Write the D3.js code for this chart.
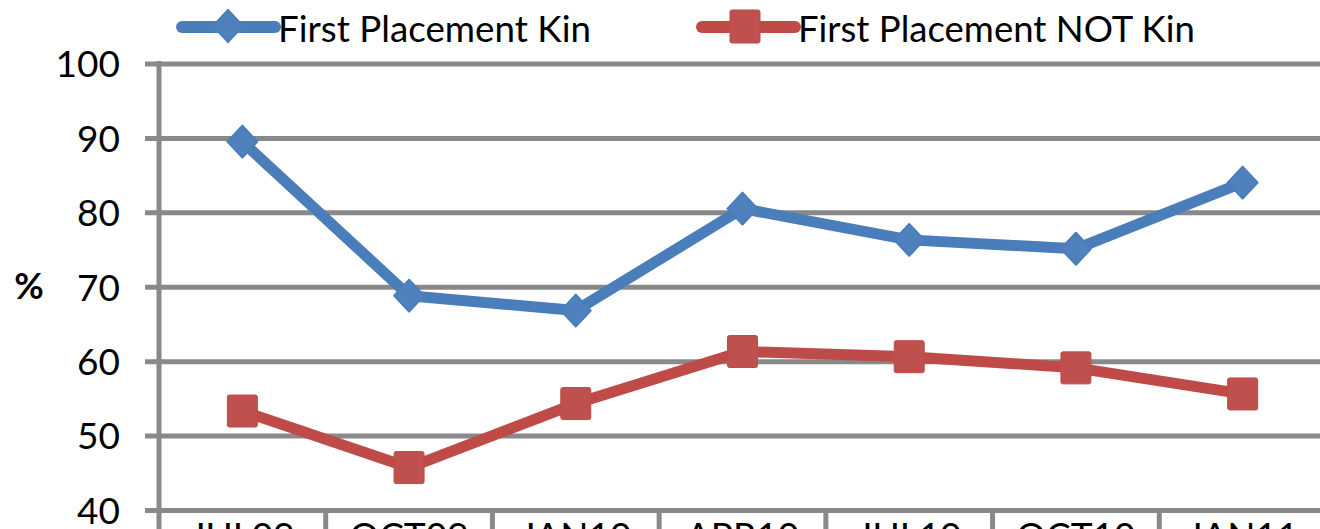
<!DOCTYPE html>
<html>
<head>
<meta charset="utf-8">
<script src="https://cdn.jsdelivr.net/npm/d3@7"></script>
<style>
  html, body { margin: 0; padding: 0; background: #fff; overflow: hidden; }
  svg { display: block; font-family: Lato, "Open Sans", sans-serif; }
</style>
</head>
<body>
<svg id="chart" width="1320" height="529"></svg>
<script>
const categories = ["JUL09", "OCT09", "JAN10", "APR10", "JUL10", "OCT10", "JAN11"];
const kinValues = [89.5, 68.8, 66.8, 80.5, 76.3, 75.1, 84.0];
const notKinValues = [53.3, 45.7, 54.3, 61.3, 60.6, 59.1, 55.6];
const yTicks = [40, 50, 60, 70, 80, 90, 100];
const seriesNames = ["First Placement Kin", "First Placement NOT Kin"];

const W = 1320, H = 529;
const plotLeft = 159, plotRight = 1326, plotTop = 63.5, plotBottom = 510;
const grid = "#898989";
const blue = "#4A7EBB", blueFill = "#4F81BD";
const red = "#BE4B48", redFill = "#C0504D";

const svg = d3.select("#chart");

const x = d3.scaleBand().domain(categories).range([plotLeft, plotRight]).padding(0);
const y = d3.scaleLinear().domain([40, 100]).range([plotBottom, plotTop]);
const cx = c => x(c) + x.bandwidth() / 2;

// y axis with gridlines
const yAxis = d3.axisLeft(y).tickValues(yTicks).tickSize(-(plotRight - 145)).tickPadding(25);
const gy = svg.append("g").attr("transform", `translate(145,0)`).call(yAxis);
gy.select(".domain").remove();
gy.selectAll(".tick line").attr("stroke", grid).attr("stroke-width", 5);
gy.selectAll(".tick text").attr("fill", "#000").style("font-size", "37px")
  .style("font-family", "Lato, 'Open Sans', sans-serif").attr("dy", "0.36em");

// vertical axis line
svg.append("line").attr("x1", plotLeft).attr("x2", plotLeft).attr("y1", plotTop - 2.5).attr("y2", H + 20)
  .attr("stroke", grid).attr("stroke-width", 5);

// category boundary ticks
const bounds = categories.map(c => x(c)).concat([plotRight]);
svg.append("g").selectAll("line").data(bounds.slice(1)).join("line")
  .attr("x1", d => d).attr("x2", d => d).attr("y1", plotBottom).attr("y2", plotBottom + 40)
  .attr("stroke", grid).attr("stroke-width", 5);

// x labels (mostly cut off)
svg.append("g").selectAll("text").data(categories).join("text")
  .attr("x", d => cx(d)).attr("y", 549).attr("text-anchor", "middle")
  .style("font-size", "37px").attr("fill", "#000").text(d => d);

// y title
svg.append("text").attr("x", 29).attr("y", 290).attr("text-anchor", "middle")
  .attr("dominant-baseline", "middle").style("font-size", "36px").style("font-weight", "bold")
  .text("%");

const line = d3.line().x(d => cx(d.c)).y(d => y(d.v));

const kinData = categories.map((c, i) => ({c, v: kinValues[i]}));
const notKinData = categories.map((c, i) => ({c, v: notKinValues[i]}));

// NOT kin series
svg.append("path").datum(notKinData).attr("d", line).attr("fill", "none")
  .attr("stroke", red).attr("stroke-width", 11).attr("stroke-linejoin", "round");
svg.append("g").selectAll("rect").data(notKinData).join("rect")
  .attr("x", d => cx(d.c) - 15).attr("y", d => y(d.v) - 16).attr("width", 30).attr("height", 32)
  .attr("rx", 2).attr("fill", redFill).attr("stroke", red).attr("stroke-width", 1);

// Kin series
svg.append("path").datum(kinData).attr("d", line).attr("fill", "none")
  .attr("stroke", blue).attr("stroke-width", 11).attr("stroke-linejoin", "round");
const diamond = "M0,-16 L15,0 L0,16 L-15,0 Z";
svg.append("g").selectAll("path").data(kinData).join("path")
  .attr("d", diamond).attr("transform", d => `translate(${cx(d.c)},${y(d.v)})`)
  .attr("fill", blueFill).attr("stroke", blue).attr("stroke-width", 2).attr("stroke-linejoin", "round");

// legend
const legend = [
  {name: seriesNames[0], lx1: 182, lx2: 275, mx: 228, tx: 278, tw: 313, col: blue, fill: blueFill, shape: "diamond"},
  {name: seriesNames[1], lx1: 702, lx2: 795, mx: 745, tx: 798, tw: 397, col: red, fill: redFill, shape: "square"}
];
const lg = svg.append("g").selectAll("g").data(legend).join("g");
lg.append("line").attr("x1", d => d.lx1).attr("x2", d => d.lx2).attr("y1", 27).attr("y2", 27)
  .attr("stroke", d => d.col).attr("stroke-width", 12).attr("stroke-linecap", "round");
lg.filter(d => d.shape === "diamond").append("path").attr("d", diamond)
  .attr("transform", d => `translate(${d.mx},26)`).attr("fill", d => d.fill).attr("stroke", d => d.col).attr("stroke-width", 2);
lg.filter(d => d.shape === "square").append("rect")
  .attr("x", d => d.mx - 15).attr("y", 10).attr("width", 30).attr("height", 33).attr("rx", 2)
  .attr("fill", d => d.fill).attr("stroke", d => d.col).attr("stroke-width", 1);
lg.append("text").attr("x", d => d.tx).attr("y", 42).style("font-size", "37px").attr("fill", "#000")
  .attr("textLength", d => d.tw).attr("lengthAdjust", "spacingAndGlyphs").text(d => d.name);
</script>
</body>
</html>
